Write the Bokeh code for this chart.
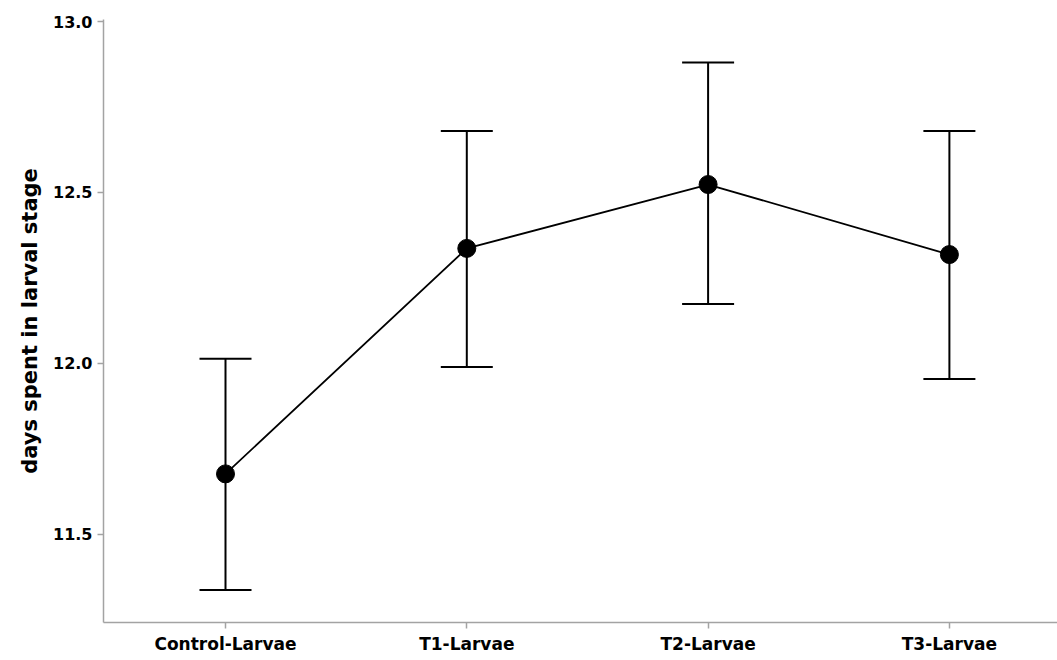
from bokeh.plotting import figure
from bokeh.models import Range1d, FixedTicker, ColumnDataSource, Whisker, TeeHead, NumeralTickFormatter
from bokeh.embed import file_html
from bokeh.resources import INLINE

categories = ["Control-Larvae", "T1-Larvae", "T2-Larvae", "T3-Larvae"]
means = [11.676, 12.336, 12.523, 12.318]
upper = [12.013, 12.680, 12.880, 12.680]
lower = [11.336, 11.989, 12.173, 11.954]
y_ticks = [11.5, 12.0, 12.5, 13.0]

xs = list(range(len(categories)))
src = ColumnDataSource(dict(x=xs, m=means, up=upper, lo=lower))

p = figure(width=1057, height=656, output_backend="svg", toolbar_location=None,
           x_range=Range1d(-0.5056, 3.448), y_range=Range1d(11.241, 13.006),
           min_border_left=103, min_border_right=0, min_border_top=19, min_border_bottom=34)
p.outline_line_color = None
p.grid.visible = False
p.background_fill_color = "white"
p.border_fill_color = "white"

font = "DejaVu Sans"
axis_col = "#a3a3a3"

p.xaxis.ticker = FixedTicker(ticks=xs)
p.xaxis.major_label_overrides = {i: c for i, c in enumerate(categories)}
p.yaxis.ticker = FixedTicker(ticks=y_ticks)
p.yaxis.formatter = NumeralTickFormatter(format="0.0")

for ax in (p.xaxis[0], p.yaxis[0]):
    ax.axis_line_color = axis_col
    ax.axis_line_width = 1.5
    ax.major_tick_line_color = axis_col
    ax.major_tick_line_width = 1.5
    ax.major_tick_out = 6
    ax.major_tick_in = 0
    ax.minor_tick_line_color = None
    ax.major_label_text_font = font
    ax.major_label_text_font_style = "bold"
    ax.major_label_text_font_size = "16px"
    ax.major_label_text_color = "black"
    ax.major_label_standoff = 5

p.xaxis.major_label_text_font_size = "17px"
p.yaxis.axis_label = "days spent in larval stage"
p.yaxis.axis_label_text_font = font
p.yaxis.axis_label_text_font_style = "bold"
p.yaxis.axis_label_text_font_size = "21px"
p.yaxis.axis_label_text_color = "black"
p.yaxis.axis_label_standoff = 8

w = Whisker(source=src, base="x", upper="up", lower="lo", dimension="height",
            line_color="black", line_width=2,
            upper_head=TeeHead(size=52, line_color="black", line_width=2),
            lower_head=TeeHead(size=52, line_color="black", line_width=2))
p.add_layout(w)

p.line("x", "m", source=src, line_color="black", line_width=1.8)
p.scatter("x", "m", source=src, size=18, fill_color="black", line_color="black")

open("out.html", "w").write(file_html(p, INLINE))
